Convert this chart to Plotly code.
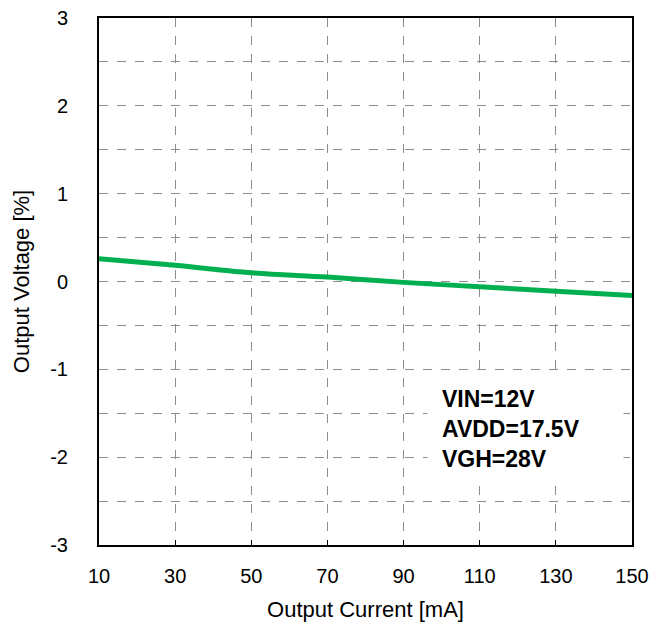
import plotly.graph_objects as go

current_ma = [10, 30, 50, 70, 90, 110, 130, 150]
output_voltage_pct = [0.26, 0.185, 0.10, 0.05, -0.01, -0.06, -0.11, -0.16]

x_ticks = [10, 30, 50, 70, 90, 110, 130, 150]
y_ticks = [-3, -2, -1, 0, 1, 2, 3]
note_lines = ["VIN=12V", "AVDD=17.5V", "VGH=28V"]

fig = go.Figure()
fig.add_trace(go.Scatter(
    x=current_ma, y=output_voltage_pct, mode="lines",
    line=dict(color="#00b050", width=5, shape="spline"),
    showlegend=False, hoverinfo="skip",
))

grid_style = dict(showgrid=True, gridcolor="#8c8c8c", gridwidth=1.3, griddash="dash")

fig.update_layout(
    width=653, height=614,
    margin=dict(l=91, r=29, t=9.5, b=76.5),
    paper_bgcolor="white", plot_bgcolor="white",
    font=dict(family="Arial, Liberation Sans, sans-serif", size=20, color="black"),
    xaxis=dict(
        range=[10, 150], tickvals=x_ticks, ticktext=[str(v) for v in x_ticks],
        ticks="inside", ticklen=5, tickcolor="black", tickwidth=1.3,
        showline=True, linecolor="black", linewidth=2, mirror=True,
        ticklabelstandoff=12, automargin=False, ticklabeloverflow="allow",
        title=dict(text="Output Current [mA]", font=dict(size=22), standoff=17),
        zeroline=False, **grid_style,
    ),
    yaxis=dict(
        range=[-3, 3], tickvals=y_ticks, ticktext=[str(v) for v in y_ticks],
        ticks="", showline=True, linecolor="black", linewidth=2, mirror=True,
        ticklabelstandoff=25, automargin=False, ticklabeloverflow="allow",
        minor=dict(dtick=0.5, showgrid=True, gridcolor="#8c8c8c", gridwidth=1.3, griddash="dash"),
        title=dict(text="Output Voltage [%]", font=dict(size=22), standoff=15),
        zeroline=False, **grid_style,
    ),
)

fig.add_annotation(
    xref="paper", yref="paper", x=0.615, y=0.22, xanchor="left", yanchor="middle",
    text="<br>".join(f"<b>{t}</b>" for t in note_lines), align="left",
    showarrow=False, bgcolor="white", borderpad=14, width=167, height=82,
    font=dict(size=23, color="black"),
)

fig.write_html("out.html")
